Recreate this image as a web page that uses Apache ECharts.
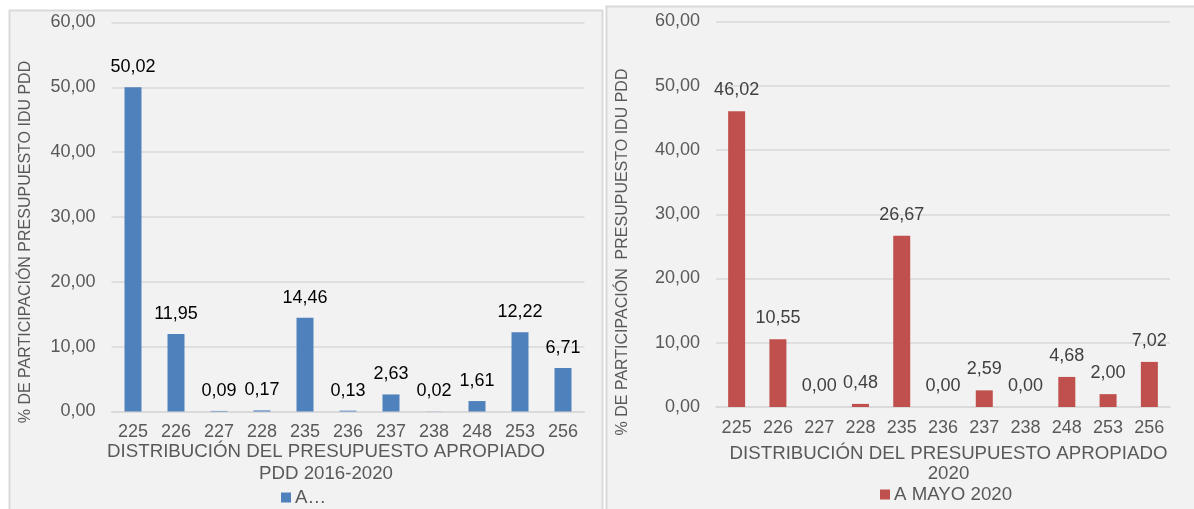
<!DOCTYPE html>
<html>
<head>
<meta charset="utf-8">
<script src="https://cdn.jsdelivr.net/npm/echarts@6/dist/echarts.min.js"></script>
<style>
html,body{margin:0;padding:0;background:#fff;}
#c{width:1194px;height:509px;}
</style>
</head>
<body>
<div id="c"></div>
<script>
const categories = ['225','226','227','228','235','236','237','238','248','253','256'];
const valuesPDD = [50.02, 11.95, 0.09, 0.17, 14.46, 0.13, 2.63, 0.02, 1.61, 12.22, 6.71];
const valuesMayo = [46.02, 10.55, 0.00, 0.48, 26.67, 0.00, 2.59, 0.00, 4.68, 2.00, 7.02];
const seriesNameLeft = 'A…';
const seriesNameRight = 'A MAYO 2020';
const yTitleLeft = '% DE PARTICIPACIÓN PRESUPUESTO IDU PDD';
const yTitleRight = '% DE PARTICIPACIÓN  PRESUPUESTO IDU PDD';
const xTitleLeft = ['DISTRIBUCIÓN DEL PRESUPUESTO APROPIADO', 'PDD 2016-2020'];
const xTitleRight = ['DISTRIBUCIÓN DEL PRESUPUESTO APROPIADO', '2020'];

const FONT = "'Liberation Sans', Arial, sans-serif";
const fmt = v => Number(v).toFixed(2).replace('.', ',');
const chart = echarts.init(document.getElementById('c'), null, {renderer:'canvas'});

function txt(x, y, text, size, color, rot) {
  return {
    type: 'text', x: x, y: y, rotation: rot || 0, z: 5,
    style: {text: text, textAlign: 'center', textVerticalAlign: 'middle',
            fontSize: size, fontFamily: FONT, fill: color}
  };
}

const xAxisBase = (gi) => ({
  type: 'category', gridIndex: gi, data: categories,
  axisTick: {show: false},
  axisLine: {lineStyle: {color: '#d9d9d9', width: 1.5}},
  axisLabel: {interval: 0, fontSize: 18, color: '#595959', fontFamily: FONT, margin: 12}
});
const yAxisBase = (gi) => ({
  type: 'value', gridIndex: gi, min: 0, max: 60, interval: 10,
  axisLine: {show: false}, axisTick: {show: false},
  splitLine: {lineStyle: {color: '#d9d9d9', width: 1.5}},
  axisLabel: {fontSize: 18, color: '#595959', fontFamily: FONT, margin: 16, formatter: fmt}
});

chart.setOption({
  animation: false,
  backgroundColor: '#ffffff',
  graphic: [
    {type: 'rect', z: -10, shape: {x: 9.5, y: 10.5, width: 593, height: 510},
     style: {fill: '#f2f2f2', stroke: '#d9d9d9', lineWidth: 2}},
    {type: 'rect', z: -10, shape: {x: 606.5, y: 6.5, width: 600, height: 510},
     style: {fill: '#f2f2f2', stroke: '#d9d9d9', lineWidth: 2}},
    txt(26, 242, yTitleLeft, 16, '#595959', Math.PI / 2),
    txt(623, 252, yTitleRight, 16, '#595959', Math.PI / 2),
    txt(326, 452, xTitleLeft[0], 18.7, '#595959'),
    txt(326, 473.5, xTitleLeft[1], 18.7, '#595959'),
    txt(948.5, 453.5, xTitleRight[0], 18.7, '#595959'),
    txt(948.5, 474, xTitleRight[1], 18.7, '#595959')
  ],
  grid: [
    {left: 111.5, top: 22.5, width: 473, height: 389},
    {left: 716, top: 21.5, width: 454, height: 385.5}
  ],
  xAxis: [xAxisBase(0), xAxisBase(1)],
  yAxis: [yAxisBase(0), yAxisBase(1)],
  legend: [
    {data: [seriesNameLeft], left: 281, top: 488, padding: 0, itemWidth: 10, itemHeight: 10,
     icon: 'rect', itemGap: 10, textStyle: {fontSize: 18.7, color: '#595959', fontFamily: FONT, padding: [0,0,0,-1]}},
    {data: [seriesNameRight], left: 880, top: 485, padding: 0, itemWidth: 10, itemHeight: 10,
     icon: 'rect', itemGap: 10, textStyle: {fontSize: 18.7, color: '#595959', fontFamily: FONT, padding: [0,0,0,-1]}}
  ],
  series: [
    {name: seriesNameLeft, type: 'bar', xAxisIndex: 0, yAxisIndex: 0, data: valuesPDD,
     barWidth: 17, itemStyle: {color: '#4f81bd'},
     label: {show: true, position: 'top', distance: 11, fontSize: 18, color: '#000000',
             fontFamily: FONT, formatter: p => fmt(p.value)}},
    {name: seriesNameRight, type: 'bar', xAxisIndex: 1, yAxisIndex: 1, data: valuesMayo,
     barWidth: 17, itemStyle: {color: '#c0504d'},
     label: {show: true, position: 'top', distance: 12, fontSize: 18, color: '#404040',
             fontFamily: FONT, formatter: p => fmt(p.value)}}
  ]
});
</script>
</body>
</html>
